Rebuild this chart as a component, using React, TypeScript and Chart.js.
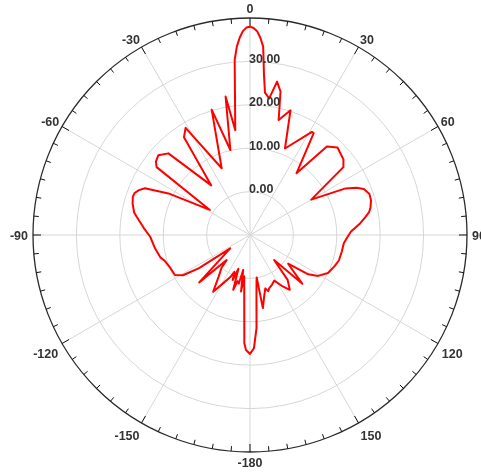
import React, { useEffect, useRef } from 'react';
import { Chart, registerables } from 'chart.js';

Chart.register(...registerables);

// Measured pattern: angle (degrees, clockwise from top) and gain (dB)
const angleDeg = [
  -180, -178, -177, -172, -171, -169, -167, -165, -163, -161, -159, -157, -155, -152,
  -147, -143, -139, -137, -133, -124, -123, -121, -118, -112, -107, -104, -98, -91,
  -86, -81, -79, -75, -72, -70, -68, -66, -63, -58, -54, -52, -49, -45, -38, -34,
  -31, -23, -17, -13, -10, -8, -5, -4, -3, -2, -1, 0, 1, 2, 3, 4, 5, 6, 8, 10, 12,
  14, 18, 22, 31, 32, 37, 41, 45, 51, 54, 60, 64, 66, 68, 71, 74, 77, 79, 81, 84,
  88, 91, 95, 100, 106, 110, 116, 121, 124, 127, 133, 136, 140, 144, 148, 152, 156,
  160, 162, 164, 167, 170, 171, 172, 174, 176, 178,
];
const gainDb = [
  17.4, 16.5, 15.0, -0.4, 3.2, -1.8, 1.5, 1.0, 3.2, -1.8, 1.1, -0.8, 0.7, 2.1,
  5.6, 2.0, 0.0, -2.1, 6.0, -4.5, 4.0, 8.0, 9.6, 9.9, 10.5, 11.3, 12.1, 13.0,
  14.6, 16.4, 17.2, 18.0, 18.4, 18.3, 17.6, 16.5, 11.1, 0.9, 16.6, 17.5, 18.0, 16.6, 4.5, 17.2,
  18.8, 6.7, 20.2, 10.1, 22.4, 14.4, 30.5, 33.5, 35.5, 37.0, 37.8, 38.0, 37.7, 37.0, 35.5, 33.5, 27.0, 23.0, 21.8, 25.9, 23.8,
  17.3, 20.2, 11.5, 17.7, 17.7, 7.8, 17.0, 18.5, 17.7, 16.6, 6.3, 14.5, 16.8, 18.3, 19.1, 19.0, 18.5, 18.0, 17.0, 15.5,
  13.3, 12.5, 11.7, 11.5, 11.3, 10.8, 10.0, 8.3, 6.2, 1.0, 6.5, -2.0, 3.5, 5.6, 3.8, 1.9, 2.5,
  3.0, 3.6, 2.8, 4.5, 7.1, -0.1, 0.8, 4.3, 11.5, 16.1,
];

const radialTickValues = [0, 10, 20, 30];
const angleTickDeg = [0, 30, 60, 90, 120, 150, 180, 210, 240, 270, 300, 330];
const rMin = -10;
const rMax = 40;

function angleName(a: number): string {
  return String(a >= 180 ? a - 360 : a);
}

const FONT = 'bold 12.5px "Liberation Sans", Arial, sans-serif';

// label nudges (x outward, y) by absolute angle from the top
const labelNudge: Record<number, [number, number]> = {
  0: [0, -7],
  30: [1, -6],
  60: [2, -3.5],
  90: [4, 2],
  120: [3, 10.5],
  150: [1.5, 12.5],
  180: [0, 11],
};

const decorPlugin = {
  id: 'polarDecor',
  beforeDatasetsDraw(chart: any) {
    const scale = chart.scales.r;
    const ctx = chart.ctx;
    const R = scale.drawingArea;
    ctx.save();
    ctx.beginPath();
    ctx.arc(scale.xCenter, scale.yCenter, R, 0, Math.PI * 2);
    ctx.strokeStyle = '#2a2a2a';
    ctx.lineWidth = 1.3;
    ctx.stroke();
    ctx.strokeStyle = '#111';
    ctx.lineWidth = 1;
    for (let a = 0; a < 360; a += 5) {
      const len = a % 30 === 0 ? 8 : 5;
      const p1 = scale.getPointPosition(a, R);
      const p2 = scale.getPointPosition(a, R - len);
      ctx.beginPath();
      ctx.moveTo(p1.x, p1.y);
      ctx.lineTo(p2.x, p2.y);
      ctx.stroke();
    }
    ctx.restore();
  },
  afterDatasetsDraw(chart: any) {
    const scale = chart.scales.r;
    const ctx = chart.ctx;
    const R = scale.drawingArea;
    ctx.save();
    ctx.font = FONT;
    ctx.fillStyle = '#333';
    ctx.textAlign = 'left';
    ctx.textBaseline = 'middle';
    for (const v of radialTickValues) {
      const d = scale.getDistanceFromCenterForValue(v);
      ctx.fillText(v.toFixed(2), scale.xCenter - 1, scale.yCenter - d - 2);
    }
    for (const a of angleTickDeg) {
      const th = (a * Math.PI) / 180;
      const s = Math.sin(th);
      const p = scale.getPointPosition(a, R + 1);
      const key = a > 180 ? 360 - a : a;
      const [nx, ny] = labelNudge[key] || [0, 0];
      let align: CanvasTextAlign = 'center';
      if (Math.abs(s) > 0.01) align = s > 0 ? 'left' : 'right';
      ctx.textAlign = align;
      ctx.textBaseline = 'middle';
      const dx = Math.abs(s) > 0.01 ? (s > 0 ? nx : -nx) : 0;
      ctx.fillText(angleName(a), p.x + dx, p.y + ny);
    }
    ctx.restore();
  },
};

export default function App() {
  const canvasRef = useRef<HTMLCanvasElement | null>(null);

  useEffect(() => {
    const canvas = canvasRef.current;
    if (!canvas) return;
    const labels: string[] = [];
    const data: (number | null)[] = [];
    for (let i = 0; i < 360; i++) {
      labels.push(angleName(i));
      data.push(null);
    }
    angleDeg.forEach((a, k) => {
      const idx = ((a % 360) + 360) % 360;
      data[idx] = gainDb[k];
    });

    const chart = new Chart(canvas, {
      type: 'radar',
      data: {
        labels,
        datasets: [
          {
            data,
            borderColor: '#ff0000',
            borderWidth: 2,
            fill: false,
            pointRadius: 0,
            pointHoverRadius: 0,
            tension: 0,
            spanGaps: true,
            borderJoinStyle: 'round',
          } as any,
        ],
      },
      options: {
        animation: false,
        responsive: true,
        maintainAspectRatio: false,
        layout: { padding: { left: 33, right: 13, top: 18, bottom: 19 } },
        plugins: { legend: { display: false }, tooltip: { enabled: false } },
        scales: {
          r: {
            min: rMin,
            max: rMax,
            ticks: { stepSize: 10, display: false },
            pointLabels: { display: false },
            grid: {
              circular: true,
              color: (ctx: any) => (ctx.tick && ctx.tick.value >= rMax ? 'rgba(0,0,0,0)' : '#d6d6d6'),
              lineWidth: 1,
            },
            angleLines: {
              display: true,
              color: (ctx: any) => (ctx.index % 30 === 0 ? '#d6d6d6' : 'rgba(0,0,0,0)'),
              lineWidth: (ctx: any) => (ctx.index % 30 === 0 ? 1 : 0),
            },
          },
        },
      },
      plugins: [decorPlugin],
    });
    return () => chart.destroy();
  }, []);

  return (
    <div style={{ position: 'absolute', left: 0, top: 0, width: 481, height: 472, background: '#fff' }}>
      <canvas ref={canvasRef} />
    </div>
  );
}
